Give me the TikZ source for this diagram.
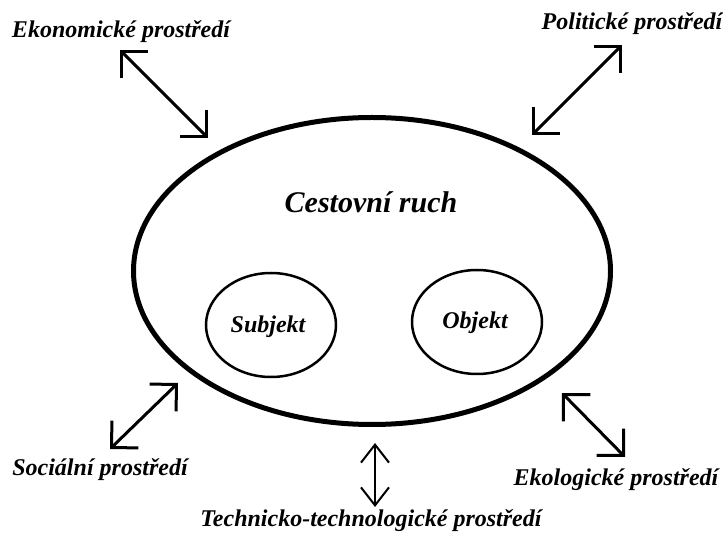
\documentclass[tikz,border=0pt]{standalone}
\usepackage{fontspec}
\setmainfont{Liberation Serif}
\usetikzlibrary{arrows.meta,shapes.geometric}

\begin{document}
\begin{tikzpicture}[x=1pt,y=-1pt,
lbl/.style={font=\fontsize{24}{28}\selectfont\bfseries\itshape,inner sep=0pt},
oval/.style={ellipse,draw,inner sep=0pt},
link/.style={{Straight Barb[length=19pt,width=38pt]}-{Straight Barb[length=19pt,width=38pt]},line width=3pt}]
\useasboundingbox[fill=white] (0,0) rectangle (723,534);
% ellipses
\node[oval,line width=5pt,minimum width=477pt,minimum height=307pt] (cr) at (372,271) {};
\node[font=\fontsize{30}{34}\selectfont\bfseries\itshape] (crt) at (371,202) {Cestovní ruch};
\node[oval,line width=2.5pt,minimum width=130pt,minimum height=104pt] (sub) at (271,325) {};
\node[lbl] at (268,327) {Subjekt};
\node[oval,line width=2.5pt,minimum width=130pt,minimum height=104pt] (obj) at (477,322) {};
\node[lbl] at (475,323) {Objekt};
% prostredi
\node[lbl] (eko) at (121,32) {Ekonomické prostředí};
\node[lbl] (pol) at (632,24) {Politické prostředí};
\node[lbl] (soc) at (100,470) {Sociální prostředí};
\node[lbl] (tech) at (371,521) {Technicko-technologické prostředí};
\node[lbl] (ekol) at (616,480) {Ekologické prostředí};
% arrows
\coordinate (eko1) at (120,50); \coordinate (eko2) at (208,138);
\coordinate (pol1) at (622,45); \coordinate (pol2) at (532,135);
\coordinate (soc1) at (178,383); \coordinate (soc2) at (110,449);
\coordinate (tech1) at (375,443); \coordinate (tech2) at (375,507);
\coordinate (ekol1) at (562,393); \coordinate (ekol2) at (625,457);
\draw[link] (eko1) -- (eko2);
\draw[link] (pol1) -- (pol2);
\draw[link] (soc1) -- (soc2);
\draw[link,line width=2pt,{Straight Barb[length=18pt,width=28pt]}-{Straight Barb[length=18pt,width=28pt]}] (tech1) -- (tech2);
\draw[link] (ekol1) -- (ekol2);
\end{tikzpicture}
\end{document}
